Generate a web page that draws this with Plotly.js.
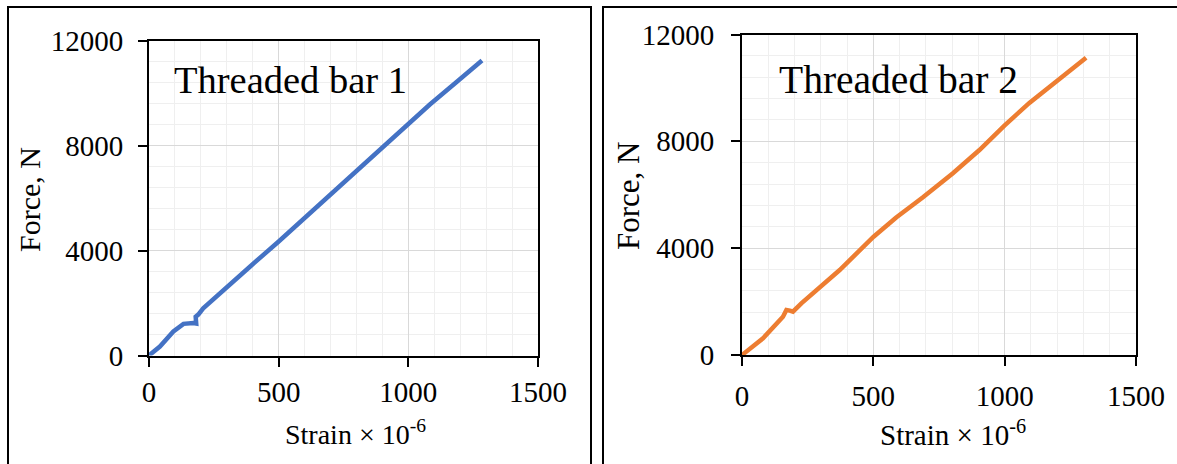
<!DOCTYPE html>
<html>
<head>
<meta charset="utf-8">
<script src="https://cdn.plot.ly/plotly-3.0.1.min.js"></script>
<style>
  html, body { margin: 0; padding: 0; background: #ffffff; }
  #chart { width: 1177px; height: 464px; }
</style>
</head>
<body>
<div id="chart"></div>
<script>
// ---- data ----
const strain1 = [0, 42, 94, 133, 171, 182, 180, 190, 209, 286, 389, 499, 608, 697, 800, 903, 999, 1083, 1186, 1284];
const force1  = [0, 343, 914, 1206, 1240, 1220, 1478, 1560, 1798, 2495, 3383, 4335, 5320, 6120, 7040, 7960, 8830, 9560, 10420, 11240];

const strain2 = [0, 80, 156, 169, 182, 194, 226, 270, 372, 501, 587, 689, 803, 904, 999, 1094, 1208, 1310];
const force2  = [0, 624, 1434, 1685, 1660, 1621, 1935, 2310, 3182, 4429, 5150, 5904, 6803, 7675, 8590, 9440, 10359, 11130];

const seriesNames = ["Threaded bar 1", "Threaded bar 2"];
const xTitle = "Strain × 10<sup>-6</sup>";
const yTitle = "Force, N";

const FONT = "Liberation Serif, Times New Roman, serif";
const W = 1177, H = 464;
const px = v => v / W;
const py = v => (H - v) / H;

function xAxis(domain, standoff) {
  return {
    domain: domain, range: [0, 1500], tick0: 0, dtick: 500, tickformat: "d",
    showgrid: true, gridcolor: "#d9d9d9", gridwidth: 1,
    minor: { dtick: 100, showgrid: true, gridcolor: "#efefef", gridwidth: 1 },
    showline: true, linecolor: "#000", linewidth: 2, mirror: true,
    ticks: "outside", ticklen: 9, tickwidth: 2, tickcolor: "#000",
    zeroline: false, fixedrange: true,
    ticklabelstandoff: standoff,
    tickfont: { family: FONT, size: 29, color: "#000" }
  };
}
function yAxis(domain, anchor, standoff) {
  return {
    domain: domain, anchor: anchor, range: [0, 12000], tick0: 0, dtick: 4000, tickformat: "d",
    showgrid: true, gridcolor: "#d9d9d9", gridwidth: 1,
    minor: { dtick: 800, showgrid: true, gridcolor: "#efefef", gridwidth: 1 },
    showline: true, linecolor: "#000", linewidth: 2, mirror: true,
    ticks: "outside", ticklen: 9, tickwidth: 2, tickcolor: "#000",
    zeroline: false, fixedrange: true,
    ticklabelstandoff: standoff,
    tickfont: { family: FONT, size: 29, color: "#000" }
  };
}

const traces = [
  { x: strain1, y: force1, type: "scatter", mode: "lines", name: seriesNames[0],
    xaxis: "x", yaxis: "y", line: { color: "#4472C4", width: 4.5 }, hoverinfo: "skip" },
  { x: strain2, y: force2, type: "scatter", mode: "lines", name: seriesNames[1],
    xaxis: "x2", yaxis: "y2", line: { color: "#ED7D31", width: 4.5 }, hoverinfo: "skip" }
];

const layout = {
  width: W, height: H,
  margin: { l: 0, r: 0, t: 0, b: 0 },
  paper_bgcolor: "#fff", plot_bgcolor: "#fff",
  showlegend: false,
  xaxis:  xAxis([px(149), px(538)], 1),
  yaxis:  yAxis([py(355.5), py(40.5)], "x", 9),
  xaxis2: Object.assign(xAxis([px(742), px(1136)], 5), { anchor: "y2" }),
  yaxis2: yAxis([py(355), py(34.5)], "x2", 11),
  shapes: [
    { type: "rect", xref: "paper", yref: "paper", x0: px(8), x1: px(591), y0: py(480), y1: py(7),
      line: { color: "#000", width: 2 }, fillcolor: "rgba(0,0,0,0)", layer: "below" },
    { type: "rect", xref: "paper", yref: "paper", x0: px(603), x1: px(1190), y0: py(480), y1: py(7),
      line: { color: "#000", width: 2 }, fillcolor: "rgba(0,0,0,0)", layer: "below" }
  ],
  annotations: [
    { text: seriesNames[0], xref: "paper", yref: "paper", x: px(172), y: py(80),
      xanchor: "left", yanchor: "middle", showarrow: false,
      font: { family: FONT, size: 38.5, color: "#000" } },
    { text: seriesNames[1], xref: "paper", yref: "paper", x: px(777), y: py(80),
      xanchor: "left", yanchor: "middle", showarrow: false,
      font: { family: FONT, size: 39.5, color: "#000" } },
    { text: xTitle, xref: "paper", yref: "paper", x: px(355), y: py(432),
      xanchor: "center", yanchor: "middle", showarrow: false,
      font: { family: FONT, size: 28, color: "#000" } },
    { text: xTitle, xref: "paper", yref: "paper", x: px(953), y: py(433),
      xanchor: "center", yanchor: "middle", showarrow: false,
      font: { family: FONT, size: 29, color: "#000" } },
    { text: yTitle, xref: "paper", yref: "paper", x: px(29), y: py(200),
      xanchor: "center", yanchor: "middle", textangle: -90, showarrow: false,
      font: { family: FONT, size: 30, color: "#000" } },
    { text: yTitle, xref: "paper", yref: "paper", x: px(628), y: py(196),
      xanchor: "center", yanchor: "middle", textangle: -90, showarrow: false,
      font: { family: FONT, size: 31, color: "#000" } }
  ]
};

Plotly.newPlot("chart", traces, layout, { staticPlot: true, displayModeBar: false });
</script>
</body>
</html>
